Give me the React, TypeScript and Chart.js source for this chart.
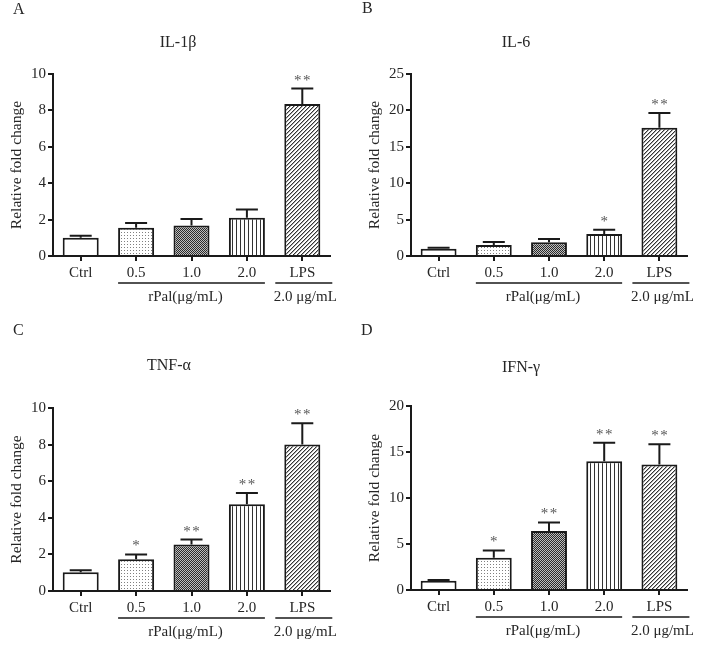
import React, { useEffect, useRef } from "react";
import { Chart, registerables } from "chart.js";
Chart.register(...registerables);

// ---------- data ----------
const categories = ["Ctrl", "0.5", "1.0", "2.0", "LPS"];

const il1bMean = [1.0, 1.55, 1.67, 2.1, 8.35];
const il1bErr = [0.11, 0.27, 0.36, 0.45, 0.85];
const il1bSig = ["", "", "", "", "**"];

const il6Mean = [1.0, 1.52, 1.88, 3.03, 17.6];
const il6Err = [0.12, 0.4, 0.45, 0.58, 2.05];
const il6Sig = ["", "", "", "*", "**"];

const tnfMean = [1.02, 1.74, 2.54, 4.74, 8.0];
const tnfErr = [0.11, 0.26, 0.27, 0.61, 1.17];
const tnfSig = ["", "*", "**", "**", "**"];

const ifnMean = [1.0, 3.5, 6.4, 14.0, 13.65];
const ifnErr = [0.1, 0.8, 0.95, 2.0, 2.2];
const ifnSig = ["", "*", "**", "**", "**"];

const titles = ["IL-1β", "IL-6", "TNF-α", "IFN-γ"];
const letters = ["A", "B", "C", "D"];
const yMaxes = [10, 25, 10, 20];
const ySteps = [2, 5, 2, 5];
const groupLabel = "rPal(μg/mL)";
const lpsLabel = "2.0 μg/mL";
const yTitle = "Relative fold change";

const means = [il1bMean, il6Mean, tnfMean, ifnMean];
const errs = [il1bErr, il6Err, tnfErr, ifnErr];
const sigs = [il1bSig, il6Sig, tnfSig, ifnSig];

// ---------- layout ----------
const W = 354;
const H = 323;
const layouts = [
  { x: 0, y: 0, left: 53, right: 330, top: 74, bottom: 256, titleX: 178, titleY: 43, letterX: 13, letterY: 10 },
  { x: 354, y: 0, left: 57, right: 333, top: 74, bottom: 256, titleX: 162, titleY: 43, letterX: 8, letterY: 9 },
  { x: 0, y: 323, left: 53, right: 330, top: 85, bottom: 268, titleX: 169, titleY: 43, letterX: 13, letterY: 8 },
  { x: 354, y: 323, left: 57, right: 333, top: 83, bottom: 267, titleX: 167, titleY: 45, letterX: 7, letterY: 8 },
];

const FONT = "'Liberation Serif', 'Times New Roman', serif";
const INK = "#1a1a1a";
const TEXT = "#262626";

function makePattern(kind: string): any {
  if (kind === "white") return "#ffffff";
  const c = document.createElement("canvas");
  const g = c.getContext("2d")!;
  if (kind === "dots") {
    c.width = 3; c.height = 3;
    g.fillStyle = "#ffffff"; g.fillRect(0, 0, 3, 3);
    g.fillStyle = "#808080"; g.fillRect(1, 1, 1, 1);
  } else if (kind === "checker") {
    c.width = 2; c.height = 2;
    g.fillStyle = "#bdbdbd"; g.fillRect(0, 0, 2, 2);
    g.fillStyle = "#2a2a2a"; g.fillRect(0, 0, 1, 1); g.fillRect(1, 1, 1, 1);
  } else if (kind === "vlines") {
    c.width = 4; c.height = 4;
    g.fillStyle = "#ffffff"; g.fillRect(0, 0, 4, 4);
    g.fillStyle = "#333333"; g.fillRect(0, 0, 1, 4);
  } else if (kind === "diag") {
    c.width = 4; c.height = 4;
    g.fillStyle = "#ffffff"; g.fillRect(0, 0, 4, 4);
    for (let i = 0; i < 4; i++) {
      g.fillStyle = "#333333"; g.fillRect(i, 3 - i, 1, 1);
      g.fillStyle = "#aaaaaa"; g.fillRect(i, (4 - i) % 4, 1, 1);
    }
  }
  return g.createPattern(c, "repeat");
}

function Panel({ idx }: { idx: number }) {
  const ref = useRef<HTMLCanvasElement | null>(null);
  useEffect(() => {
    const L = layouts[idx];
    const mean = means[idx];
    const err = errs[idx];
    const sig = sigs[idx];
    const fills = ["white", "dots", "checker", "vlines", "diag"].map(makePattern);

    const overlay = {
      id: "overlay" + idx,
      afterDatasetsDraw(chart: any) {
        const ctx = chart.ctx;
        const meta = chart.getDatasetMeta(0);
        const ys = chart.scales.y;
        ctx.save();
        ctx.strokeStyle = INK;
        ctx.lineWidth = 2;
        meta.data.forEach((bar: any, i: number) => {
          const top = ys.getPixelForValue(mean[i]);
          const eTop = ys.getPixelForValue(mean[i] + err[i]);
          ctx.beginPath();
          ctx.moveTo(bar.x, top);
          ctx.lineTo(bar.x, eTop);
          ctx.moveTo(bar.x - 11, eTop);
          ctx.lineTo(bar.x + 11, eTop);
          ctx.stroke();
          if (sig[i]) {
            ctx.fillStyle = "#555555";
            ctx.font = `15px ${FONT}`;
            ctx.textAlign = "center";
            ctx.textBaseline = "alphabetic";
            const n = sig[i].length;
            for (let k = 0; k < n; k++) {
              const dx = (k - (n - 1) / 2) * 9;
              ctx.fillText("*", bar.x + dx, eTop - 4);
            }
          }
        });
        // group underlines
        const b1: any = meta.data[1];
        const b3: any = meta.data[3];
        const b4: any = meta.data[4];
        const ly = L.bottom + 27;
        ctx.lineWidth = 1.5;
        ctx.beginPath();
        ctx.moveTo(b1.x - b1.width / 2, ly);
        ctx.lineTo(b3.x + b3.width / 2, ly);
        ctx.moveTo(b4.x - 27, ly);
        ctx.lineTo(b4.x + 30, ly);
        ctx.stroke();
        ctx.fillStyle = TEXT;
        ctx.font = `15px ${FONT}`;
        ctx.textAlign = "center";
        ctx.textBaseline = "middle";
        const mid = (b1.x - b1.width / 2 + b3.x + b3.width / 2) / 2;
        ctx.fillText(groupLabel, mid - 6, L.bottom + 41);
        ctx.fillText(lpsLabel, b4.x + 3, L.bottom + 41);
        // title
        ctx.font = `16px ${FONT}`;
        ctx.fillText(titles[idx], L.titleX, L.titleY);
        // letter
        ctx.textAlign = "left";
        ctx.fillText(letters[idx], L.letterX, L.letterY);
        // y title
        ctx.save();
        ctx.translate(L.left - 36, (L.top + L.bottom) / 2);
        ctx.rotate(-Math.PI / 2);
        ctx.textAlign = "center";
        ctx.font = `15.5px ${FONT}`;
        ctx.fillText(yTitle, 0, 0);
        ctx.restore();
        ctx.restore();
      },
    };

    const chart = new Chart(ref.current!, {
      type: "bar",
      data: {
        labels: categories,
        datasets: [
          {
            data: mean,
            backgroundColor: fills,
            borderColor: INK,
            borderWidth: 2,
            barPercentage: 0.65,
            categoryPercentage: 1,
          },
        ],
      },
      options: {
        responsive: false,
        animation: false,
        devicePixelRatio: 1,
        layout: { padding: { top: L.top, right: W - L.right, left: 0, bottom: 0 } },
        plugins: { legend: { display: false }, tooltip: { enabled: false }, title: { display: false } },
        scales: {
          x: {
            type: "category",
            offset: true,
            grid: { display: true, drawOnChartArea: false, drawTicks: true, tickLength: 5, offset: false, color: INK, lineWidth: 2 },
            border: { display: true, color: INK, width: 2 },
            ticks: { font: { family: FONT, size: 15 }, color: TEXT, padding: 3, maxRotation: 0 },
            afterFit: (s: any) => { s.height = H - L.bottom; },
          },
          y: {
            min: 0,
            max: yMaxes[idx],
            ticks: { stepSize: ySteps[idx], font: { family: FONT, size: 15 }, color: TEXT, padding: 2 },
            grid: { display: true, drawOnChartArea: false, drawTicks: true, tickLength: 5, color: INK, lineWidth: 2 },
            border: { display: true, color: INK, width: 2 },
            afterFit: (s: any) => { s.width = L.left; },
          },
        },
      } as any,
      plugins: [overlay],
    });
    return () => chart.destroy();
  }, [idx]);
  const L = layouts[idx];
  return (
    <canvas
      ref={ref}
      width={W}
      height={H}
      style={{ position: "absolute", left: L.x, top: L.y, width: W, height: H }}
    />
  );
}

export default function App() {
  return (
    <div style={{ position: "absolute", left: 0, top: 0, width: 708, height: 646, background: "#ffffff" }}>
      {[0, 1, 2, 3].map((i) => (
        <Panel key={i} idx={i} />
      ))}
    </div>
  );
}
